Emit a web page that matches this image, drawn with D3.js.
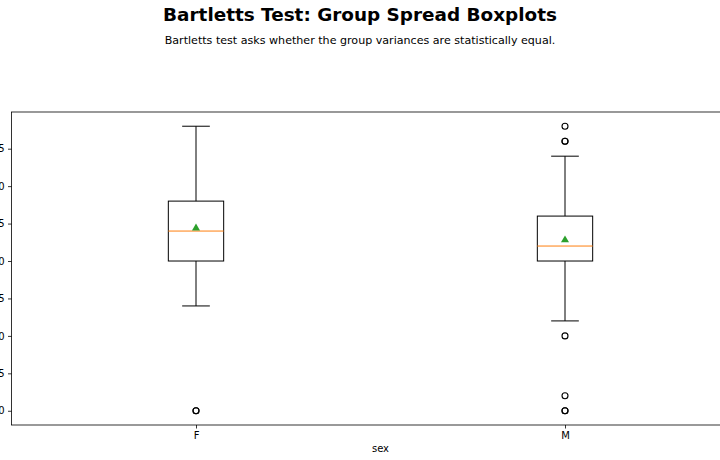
<!DOCTYPE html>
<html>
<head>
<meta charset="utf-8">
<script src="https://cdn.jsdelivr.net/npm/d3@7"></script>
<style>
  body { margin: 0; background: #fff; }
  svg { display: block; font-family: "DejaVu Sans", sans-serif; }
</style>
</head>
<body>
<div id="chart"></div>
<script>
// group stats
const groups = ["F", "M"]
const q1 = [20, 20]
const medians = [24, 22]
const q3 = [28, 26]
const whiskLo = [14, 12]
const whiskHi = [38, 34]
const means = [24.4, 22.8]
const fliers = [[0, 0], [38, 36, 36, 10, 2, 0, 0]]
const yTicks = [0, 5, 10, 15, 20, 25, 30, 35]

const width = 720, height = 460
const margin = {top: 112, left: 11.5, bottom: 425}
const axRight = 749.5

const svg = d3.select('#chart').append('svg')
    .attr('width', width)
    .attr('height', height)

const x = d3.scaleLinear().domain([0.5, 2.5]).range([margin.left, axRight])
const y = d3.scaleLinear().domain([-1.9, 39.9]).range([margin.bottom, margin.top])

// titles
svg.append('text')
    .attr('x', width / 2).attr('y', 21)
    .attr('text-anchor', 'middle')
    .style('font-size', '18.4px').style('font-weight', 'bold')
    .text('Bartletts Test: Group Spread Boxplots')
svg.append('text')
    .attr('x', width / 2).attr('y', 43.5)
    .attr('text-anchor', 'middle')
    .style('font-size', '11.1px')
    .text('Bartletts test asks whether the group variances are statistically equal.')

// axes
const yAxis = svg.append('g')
    .attr('transform', `translate(${margin.left},0)`)
    .call(d3.axisLeft(y).tickValues(yTicks).tickSize(3.5).tickPadding(3.5))
const xAxis = svg.append('g')
    .attr('transform', `translate(0,${margin.bottom})`)
    .call(d3.axisBottom(x).tickValues([1, 2]).tickFormat((d) => groups[d - 1]).tickSize(3.5).tickPadding(3.5))
;[yAxis, xAxis].forEach((a) => {
    a.select('.domain').remove()
    a.selectAll('line').attr('stroke', '#000').attr('stroke-width', 0.8)
    a.selectAll('text').style('font-size', '10px').style('font-family', 'DejaVu Sans').attr('fill', '#000')
})

// frame
svg.append('rect')
    .attr('x', margin.left).attr('y', margin.top)
    .attr('width', axRight - margin.left).attr('height', margin.bottom - margin.top)
    .attr('fill', 'none').attr('stroke', '#000').attr('stroke-width', 0.8)

svg.append('text')
    .attr('x', (margin.left + axRight) / 2).attr('y', 452)
    .attr('text-anchor', 'middle')
    .style('font-size', '10px')
    .text('sex')

const boxW = 0.15
groups.forEach((g, i) => {
    const pos = i + 1
    const grp = svg.append('g')
    const cx = x(pos)
    const left = x(pos - boxW / 2), right = x(pos + boxW / 2)
    const capL = x(pos - boxW / 4), capR = x(pos + boxW / 4)

    // whiskers
    grp.append('line').attr('x1', cx).attr('x2', cx).attr('y1', y(q1[i])).attr('y2', y(whiskLo[i]))
    grp.append('line').attr('x1', cx).attr('x2', cx).attr('y1', y(q3[i])).attr('y2', y(whiskHi[i]))
    grp.append('line').attr('x1', capL).attr('x2', capR).attr('y1', y(whiskLo[i])).attr('y2', y(whiskLo[i]))
    grp.append('line').attr('x1', capL).attr('x2', capR).attr('y1', y(whiskHi[i])).attr('y2', y(whiskHi[i]))
    grp.selectAll('line').attr('stroke', '#000').attr('stroke-width', 1)

    grp.append('rect')
        .attr('x', left).attr('y', y(q3[i]))
        .attr('width', right - left).attr('height', y(q1[i]) - y(q3[i]))
        .attr('fill', 'none').attr('stroke', '#000').attr('stroke-width', 1)

    grp.append('line')
        .attr('x1', left).attr('x2', right)
        .attr('y1', y(medians[i])).attr('y2', y(medians[i]))
        .attr('stroke', '#ff7f0e').attr('stroke-width', 1)

    grp.append('path')
        .attr('d', d3.symbol(d3.symbolTriangle, 28)())
        .attr('transform', `translate(${cx},${y(means[i])})`)
        .attr('fill', '#2ca02c')

    grp.selectAll('circle.flier')
        .data(fliers[i])
        .join('circle')
        .attr('class', 'flier')
        .attr('cx', cx).attr('cy', (d) => y(d))
        .attr('r', 3)
        .attr('fill', 'none').attr('stroke', '#000').attr('stroke-width', 1.1)
})
</script>
</body>
</html>
